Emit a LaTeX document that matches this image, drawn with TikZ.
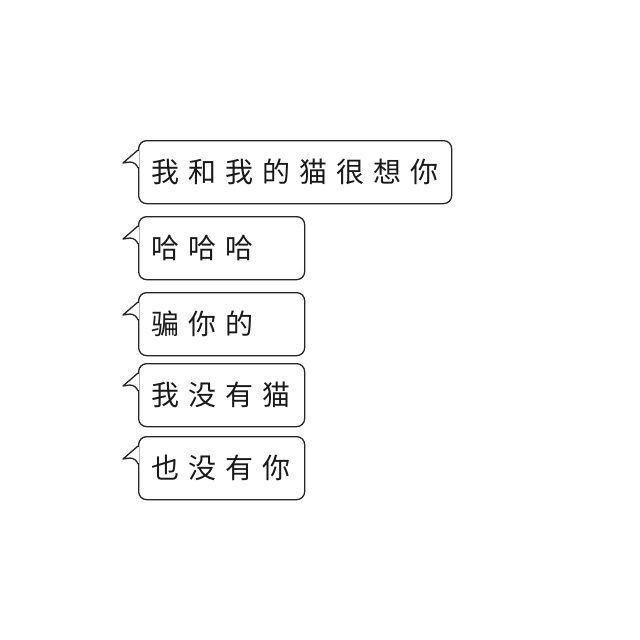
\documentclass[tikz,border=0pt]{standalone}
\usepackage{fontspec}
\newfontfamily\cjk{Noto Sans CJK SC}
\usetikzlibrary{calc}
\newcommand{\chsp}{\hspace{9pt}}
\tikzset{
  bubble/.style={draw=black!85, line width=1.3pt, rounded corners=8pt, anchor=north west,
    minimum height=63pt, inner xsep=13pt, inner ysep=0pt, align=left,
    font=\cjk\fontsize{28pt}{30pt}\selectfont, text=black!90},
  tail/.style={draw=black!85, line width=1.3pt, line join=round},
  gap/.style={fill=white}
}
\newcommand{\bubbletail}[1]{%
  \fill[gap] ($(#1.north west)+(-1,11)$) rectangle ($(#1.north west)+(1,27)$);
  \draw[tail] ($(#1.north west)+(0,10)$) -- ($(#1.north west)+(-15,23)$)
    -- ($(#1.north west)+(-8,22)$) .. controls ($(#1.north west)+(-4,22)$) and ($(#1.north west)+(-1,25)$) .. ($(#1.north west)+(0,28)$);}
\begin{document}
\begin{tikzpicture}[x=1pt,y=-1pt]
\useasboundingbox[fill=white] (0,0) rectangle (640,640);
\node[bubble, text width=287pt] (b1) at (138,140) {我\chsp 和\chsp 我\chsp 的\chsp 猫\chsp 很\chsp 想\chsp 你};
\node[bubble, text width=140pt] (b2) at (138,216) {哈\chsp 哈\chsp 哈};
\node[bubble, text width=140pt] (b3) at (138,292) {骗\chsp 你\chsp 的};
\node[bubble, text width=140pt] (b4) at (138,363) {我\chsp 没\chsp 有\chsp 猫};
\node[bubble, text width=140pt] (b5) at (138,436) {也\chsp 没\chsp 有\chsp 你};
\bubbletail{b1}
\bubbletail{b2}
\bubbletail{b3}
\bubbletail{b4}
\bubbletail{b5}
\end{tikzpicture}
\end{document}
